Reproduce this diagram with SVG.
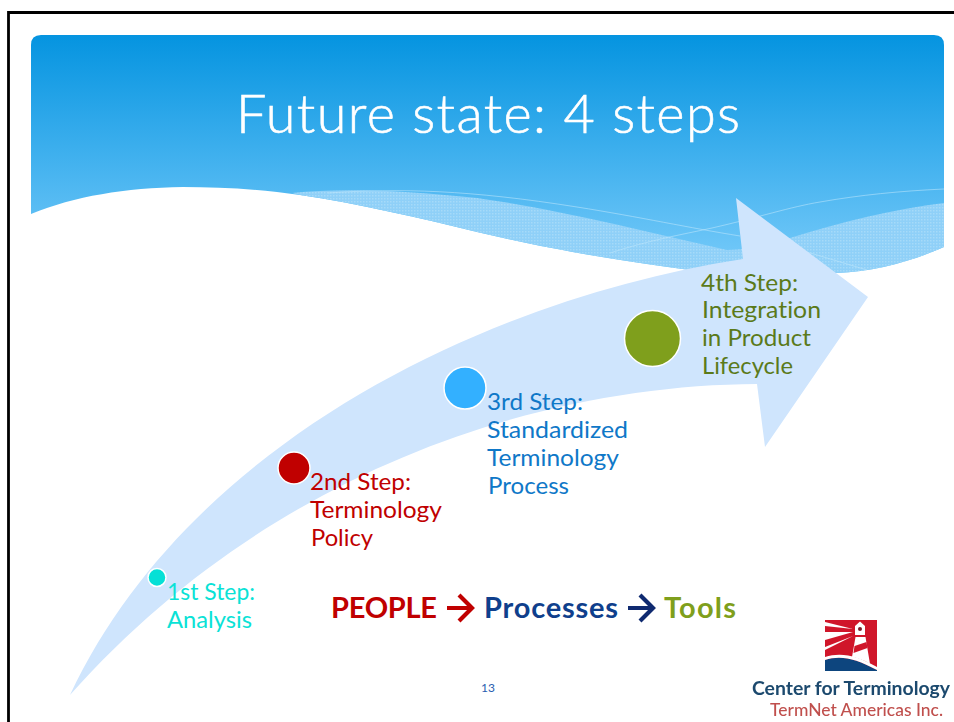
<svg xmlns="http://www.w3.org/2000/svg" width="954" height="722" viewBox="0 0 954 722">
<style>
text{font-family:Lato,"Open Sans","Liberation Sans",sans-serif;font-variant-ligatures:none}
.s{font-size:24px}
.b{font-size:29px;font-weight:700}
.dot{stroke:#fff;stroke-width:1.500}
.ar{fill:none;stroke-width:4.2}
</style>
<defs>
<linearGradient id="sky" x1="0" y1="35" x2="0" y2="275" gradientUnits="userSpaceOnUse">
<stop offset="0" stop-color="#0594e0"/><stop offset="0.5" stop-color="#3fb0ee"/><stop offset="1" stop-color="#7accfa"/>
</linearGradient>
<pattern id="mesh" width="3" height="3" patternUnits="userSpaceOnUse">
<rect width="3" height="3" fill="#8fd0f8"/><rect width="1.500" height="1.500" fill="#a6daf9"/>
</pattern>
<filter id="soft"><feGaussianBlur stdDeviation="0.450"/></filter>
</defs>
<rect width="954" height="722" fill="#fff"/>
<path d="M8.500 722V12.500H954" fill="none" stroke="#000" stroke-width="2.800"/>
<g id="header">
<path id="sky-band" d="M31 45Q31 35 41 35H934Q944 35 944 45V247C915 260 875 272 837 273C780 276 730 275 690 270C600 258 540 247 477 232C420 218 360 204 300 195C260 189 220 187 183 187C125 188 75 196 31 214Z" fill="url(#sky)"/>
<path d="M292 193C340 188 400 190 477 198C550 208 640 230 727 250C750 250 765 243 790 238C840 222 895 209 944 203V247C915 260 875 272 837 273C780 276 730 275 690 270C600 258 540 247 477 232C420 218 360 204 300 195Z" fill="url(#mesh)"/>
<path d="M328 193C400 188 470 190 577 207C640 217 690 228 740 236M610 253C650 240 680 235 712 228C760 217 790 207 820 202C860 195 900 191 944 189M807 252L867 270" fill="none" stroke="#bfe6fb" stroke-width="0.800" opacity="0.700"/>
<text x="236" y="133" font-size="54" font-weight="300" fill="#fff" stroke="#fff" stroke-width="0.600" textLength="504" lengthAdjust="spacing">Future state: 4 steps</text>
</g>
<g id="connectors">
<path id="flow-arrow" d="M70 695C190 440 490 298 743 259L736 198L868 297L765 447L757 384C540 385 270 470 70 695Z" fill="#cfe5fd"/>
</g>
<g id="step1">
<circle class="dot" cx="157" cy="577.500" r="9" fill="#05e0d6"/>
<g class="s" fill="#0ae2d6"><text x="167" y="600" textLength="88" lengthAdjust="spacingAndGlyphs">1st Step:</text><text x="167" y="628" textLength="85" lengthAdjust="spacingAndGlyphs">Analysis</text></g>
</g>
<g id="step2">
<circle class="dot" cx="294" cy="468" r="16" fill="#c00000"/>
<g class="s" fill="#c00000"><text x="310" y="490" textLength="101" lengthAdjust="spacingAndGlyphs">2nd Step:</text><text x="310" y="518" textLength="132" lengthAdjust="spacingAndGlyphs">Terminology</text><text x="311" y="546" textLength="62" lengthAdjust="spacingAndGlyphs">Policy</text></g>
</g>
<g id="step3">
<circle class="dot" cx="465" cy="388" r="21" fill="#33b0ff"/>
<g class="s" fill="#0f78c8"><text x="487" y="410" textLength="96" lengthAdjust="spacingAndGlyphs">3rd Step:</text><text x="487" y="438" textLength="141" lengthAdjust="spacingAndGlyphs">Standardized</text><text x="487" y="466" textLength="132" lengthAdjust="spacingAndGlyphs">Terminology</text><text x="488" y="494" textLength="81" lengthAdjust="spacingAndGlyphs">Process</text></g>
</g>
<g id="step4">
<circle class="dot" cx="652.500" cy="338.500" r="28" fill="#7f9f1c"/>
<g class="s" fill="#5b7a1a"><text x="701" y="291" textLength="97" lengthAdjust="spacingAndGlyphs">4th Step:</text><text x="702" y="318" textLength="119" lengthAdjust="spacingAndGlyphs">Integration</text><text x="702" y="346" textLength="109" lengthAdjust="spacingAndGlyphs">in Product</text><text x="702" y="374" textLength="91" lengthAdjust="spacingAndGlyphs">Lifecycle</text></g>
</g>
<g id="tagline">
<text class="b" x="331" y="618" fill="#c00000" textLength="106" lengthAdjust="spacing">PEOPLE</text>
<path class="ar" stroke="#c00000" d="M447 608H472M459 595L472 608L459 621"/>
<text class="b" x="484" y="618" fill="#0f3f8c" textLength="134" lengthAdjust="spacing">Processes</text>
<path class="ar" stroke="#0f2a70" d="M628 608H653M640 595L653 608L640 621"/>
<text class="b" x="664" y="618" fill="#7f9f1c" textLength="72" lengthAdjust="spacing">Tools</text>
</g>
<text id="page" x="481" y="692" font-size="12" fill="#2a5db0">13</text>
<g id="logo" filter="url(#soft)">
<rect x="825" y="620" width="52" height="51" fill="#d0182c"/>
<path d="M825 660C840 655 855 658 877 670V671H825Z" fill="#10447e"/>
<path d="M825 657C840 652 857 655 877 667V670C855 658 840 655 825 660Z" fill="#fff"/>
<path d="M825 622V626L853 629ZM825 632V640L853 632ZM825 647V650L853 636Z" fill="#fff"/>
<path d="M855.500 637H865.500L870 664C864 660 858 658 852 657Z" fill="#fff"/>
<path d="M854.500 646L866.500 642L867.500 648L853.500 653Z" fill="#d0182c"/>
<path d="M855 635V626L860 621.500L865 626V635Z" fill="#fff"/>
<circle cx="860" cy="629" r="2" fill="#7a1a2a"/>
<text x="752" y="695" font-size="19" font-weight="700" fill="#1c4a6e" textLength="198" lengthAdjust="spacingAndGlyphs">Center for Terminology</text>
<text x="770" y="716" font-size="17" font-weight="500" fill="#c0504d" textLength="173" lengthAdjust="spacingAndGlyphs">TermNet Americas Inc.</text>
</g>
</svg>
